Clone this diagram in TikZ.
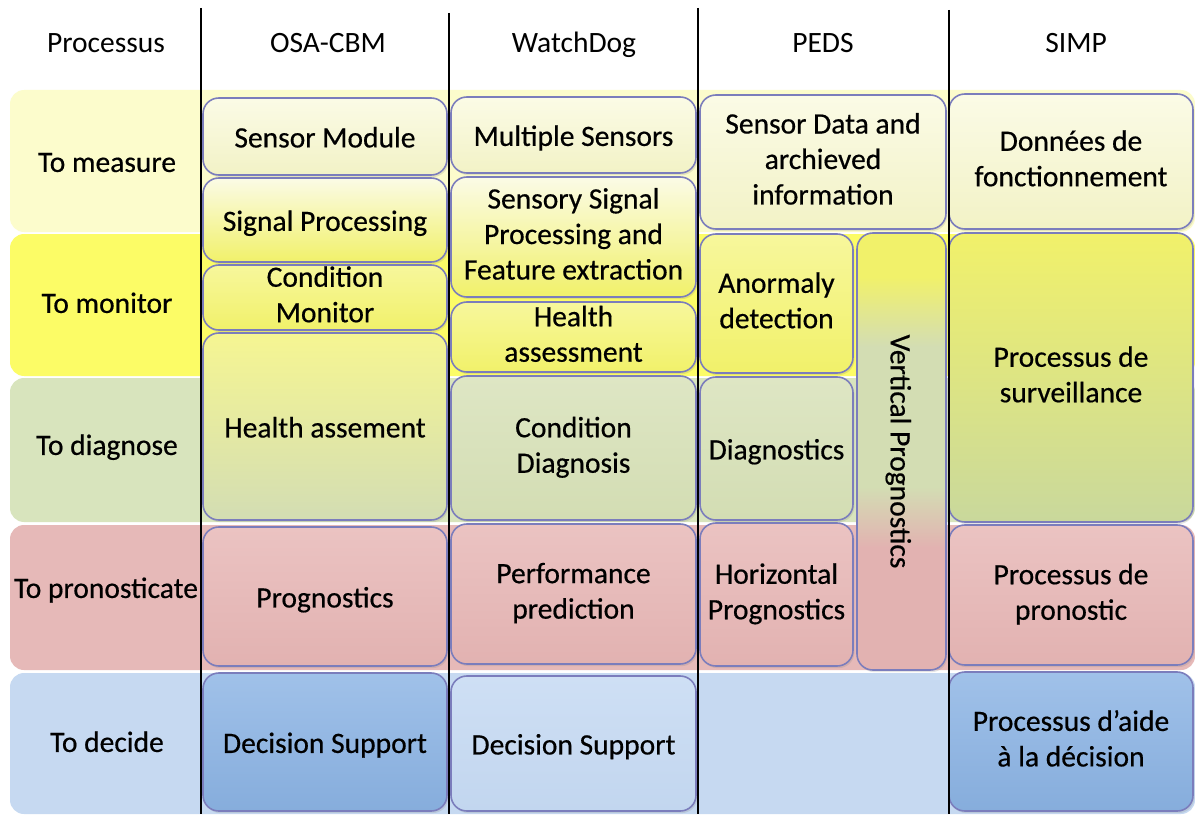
\documentclass[tikz,border=0pt]{standalone}
\usepackage{fontspec}
\setmainfont{Carlito}
\newfontfamily\boxfont{Carlito}[FakeBold=0.5]
\usetikzlibrary{fit,shadows}

\definecolor{bandMeasure}{HTML}{FCFCCC}
\definecolor{bandMonitor}{HTML}{FCFC66}
\definecolor{bandDiagnose}{HTML}{D8E4BD}
\definecolor{bandProno}{HTML}{E6B9B8}
\definecolor{bandDecide}{HTML}{C6D9F1}
\definecolor{boxBorder}{HTML}{7B7DBC}
\definecolor{creamTop}{HTML}{FBFBE6}
\definecolor{creamBot}{HTML}{F2F2C6}
\definecolor{yellowTop}{HTML}{F7F79C}
\definecolor{yellowBot}{HTML}{F1F16A}
\definecolor{greenTop}{HTML}{DEE6C4}
\definecolor{greenBot}{HTML}{D3DDB3}
\definecolor{pinkTop}{HTML}{EBC3C2}
\definecolor{pinkBot}{HTML}{E2B2B1}
\definecolor{blueTop}{HTML}{A0C1E9}
\definecolor{blueBot}{HTML}{86ADDC}
\definecolor{lblueTop}{HTML}{CEDFF4}
\definecolor{lblueBot}{HTML}{C2D6EF}
\definecolor{survBot}{HTML}{C9D89C}

% yellow -> green -> pink, top to bottom
\pgfdeclareverticalshading{vprog}{100bp}{color(0bp)=(pinkBot); color(39bp)=(pinkBot);
    color(46bp)=(greenBot); color(62bp)=(greenBot); color(70bp)=(yellowBot); color(100bp)=(yellowBot)}

\newcommand{\linestrut}{\rule[-0.22em]{0pt}{1.18em}}

\begin{document}
\begin{tikzpicture}[
        x=0.02cm, y=-0.02cm,
        every node/.style={font=\fontsize{16.8}{20.2}\selectfont\boxfont, align=center, text=black,
            execute at begin node=\linestrut, execute at end node=\linestrut},
        head/.style={font=\fontsize{16.8}{20.2}\selectfont\rmfamily},
        band/.style={rounded corners=8pt},
        box/.style={draw=boxBorder, line width=0.9pt, rounded corners=9pt, inner sep=0pt,
            drop shadow={opacity=0.2, shadow xshift=0.8pt, shadow yshift=-1.2pt}},
        cream/.style={box, top color=creamTop, bottom color=creamBot},
        cryel/.style={box, top color=creamTop, bottom color=yellowBot},
        yel/.style={box, top color=yellowTop, bottom color=yellowBot},
        yelgr/.style={box, top color=yellowTop!80!yellowBot, bottom color=greenBot},
        gr/.style={box, top color=greenTop, bottom color=greenBot},
        pk/.style={box, top color=pinkTop, bottom color=pinkBot},
        dkblue/.style={box, top color=blueTop, bottom color=blueBot},
        ltblue/.style={box, top color=lblueTop, bottom color=lblueBot},
        sep/.style={line width=1.4pt},
    ]
    \useasboundingbox[fill=white] (0,0) rectangle (1195,814);

    % row bands
    \fill[band, bandMeasure] (10,90) rectangle (1195,232);
    \fill[band, bandMonitor] (10,234) rectangle (1195,376);
    \fill[band, bandDiagnose] (10,378) rectangle (1195,522);
    \fill[band, bandProno] (10,525) rectangle (1195,670);
    \fill[band, bandDecide] (10,673) rectangle (1195,814);

    % headers
    \node[head] (hproc) at (106,42) {Processus};
    \node[head] (hosa) at (328,42) {OSA-CBM};
    \node[head] (hwd) at (574,42) {WatchDog};
    \node[head] (hpeds) at (823,42) {PEDS};
    \node[head] (hsimp) at (1076,42) {SIMP};

    % processes
    \node (measure) at (107,161) {To measure};
    \node (monitor) at (107,302) {To monitor};
    \node (diagnose) at (107,444) {To diagnose};
    \node (prono) at (106,587) {To pronosticate};
    \node (decide) at (107,741) {To decide};

    % OSA-CBM
    \node[cream, fit={(203,98) (447,175)}, label=center:{Sensor Module}] (sm) {};
    \node[cryel, fit={(203,178) (447,262)}, label=center:{Signal Processing}] (sp) {};
    \node[yel, fit={(203,265) (447,330)}, label=center:{Condition\\Monitor}] (cm) {};
    \node[yelgr, fit={(203,333) (447,520)}, label=center:{Health assement}] (ha) {};
    \node[pk, fit={(203,527) (447,666)}, label=center:{Prognostics}] (pg) {};
    \node[dkblue, fit={(203,673) (447,811)}, label=center:{Decision Support}] (ds) {};

    % WatchDog
    \node[cream, fit={(451,97) (696,173)}, label=center:{Multiple Sensors}] (ms) {};
    \node[cryel, fit={(451,177) (696,297)}, label=center:{Sensory Signal\\Processing and\\Feature extraction}] (ssp) {};
    \node[yel, fit={(451,302) (696,372)}, label=center:{Health\\assessment}] (hass) {};
    \node[gr, fit={(451,376) (696,520)}, label=center:{Condition\\Diagnosis}] (cd) {};
    \node[pk, fit={(451,524) (696,664)}, label=center:{Performance\\prediction}] (pp) {};
    \node[ltblue, fit={(451,676) (696,811)}, label=center:{Decision Support}] (dswd) {};

    % PEDS
    \node[cream, fit={(700,95) (946,229)}, label=center:{Sensor Data and\\archieved\\information}] (sd) {};
    \node[yel, fit={(700,234) (853,373)}, label=center:{Anormaly\\detection}] (ad) {};
    \node[gr, fit={(700,377) (853,520)}, label=center:{Diagnostics}] (dg) {};
    \node[pk, fit={(700,523) (853,666)}, label=center:{Horizontal\\Prognostics}] (hp) {};
    \node[box, shade, shading=vprog, fit={(857,233) (946,670)}] (vp) {};
    \node[rotate=-90] (vptext) at (vp.center) {Vertical Prognostics};

    % SIMP
    \node[cream, fit={(949,94) (1193,229)}, label=center:{Données de\\fonctionnement}] (dd) {};
    \node[box, top color=yellowBot, bottom color=survBot, fit={(949,233) (1193,522)},
        label=center:{Processus de\\surveillance}] (psurv) {};
    \node[pk, fit={(949,525) (1193,665)}, label=center:{Processus de\\pronostic}] (ppro) {};
    \node[dkblue, fit={(949,672) (1193,811)}, label=center:{Processus d’aide\\à la décision}] (paide) {};

    % column separators
    \draw[sep] (201,8) -- (201,814);
    \draw[sep] (449,13) -- (449,814);
    \draw[sep] (698,8) -- (698,814);
    \draw[sep] (949,10) -- (949,814);
\end{tikzpicture}
\end{document}
